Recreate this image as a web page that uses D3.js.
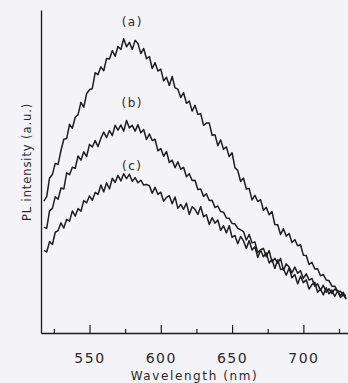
<!DOCTYPE html>
<html>
<head>
<meta charset="utf-8">
<script src="https://cdn.jsdelivr.net/npm/d3@7"></script>
<style>
  html, body { margin: 0; padding: 0; background: #f4f3f8; }
  svg { display: block; }
  text { font-family: "DejaVu Sans", sans-serif; fill: #2a2a2a; }
</style>
</head>
<body>
<svg width="348" height="383"></svg>
<script>
// wavelength grid (nm) the spectra were read on
const wavelengths = [518, 520, 522, 524, 526, 528, 530, 532, 534, 536, 538, 540, 542, 544, 546, 548,
  550, 552, 554, 556, 558, 560, 562, 564, 566, 568, 570, 572, 574, 576, 578, 580, 582, 584, 586, 588,
  590, 592, 594, 596, 598, 600, 602, 604, 606, 608, 610, 612, 614, 616, 618, 620, 622, 624, 626, 628,
  630, 632, 634, 636, 638, 640, 642, 644, 646, 648, 650, 652, 654, 656, 658, 660, 662, 664, 666, 668,
  670, 672, 674, 676, 678, 680, 682, 684, 686, 688, 690, 692, 694, 696, 698, 700, 702, 704, 706, 708,
  710, 712, 714, 716, 718, 720, 722, 724, 726, 728, 730];

// PL intensity (a.u.)
const seriesA = [40.8, 42.2, 48.0, 49.1, 52.5, 52.2, 56.5, 60.0, 60.2, 64.6, 63.4, 66.8, 67.6, 71.4, 69.9, 74.1,
  75.3, 75.7, 80.6, 80.0, 82.4, 81.2, 85.0, 84.8, 87.4, 85.7, 88.7, 87.8, 91.1, 88.6, 90.0, 87.8, 90.6, 89.6, 86.5, 88.1,
  84.9, 85.6, 81.9, 83.7, 81.1, 81.7, 78.1, 79.2, 76.6, 79.4, 75.9, 75.5, 72.9, 74.4, 71.1, 71.8, 68.7, 70.5, 67.7, 67.9,
  64.3, 65.0, 65.0, 61.2, 61.4, 58.0, 59.8, 56.9, 57.6, 54.6, 55.8, 51.2, 50.3, 46.9, 48.0, 44.6, 44.7, 41.2, 42.6, 40.7,
  41.3, 38.0, 38.9, 36.6, 37.6, 33.6, 33.5, 30.5, 32.3, 30.0, 30.8, 28.0, 28.9, 27.0, 27.3, 24.1, 24.0, 21.2, 21.9, 19.8,
  19.9, 17.7, 18.1, 16.4, 16.2, 14.5, 14.5, 13.0, 12.9, 11.8, 11.7];

const seriesB = [32.7, 32.4, 37.8, 38.6, 42.2, 41.4, 44.9, 44.6, 49.6, 49.0, 51.3, 51.0, 54.8, 53.5, 56.1, 54.6,
  58.4, 57.6, 59.6, 57.7, 60.3, 62.2, 60.5, 62.7, 61.1, 64.3, 62.8, 64.4, 62.5, 65.8, 63.5, 64.3, 62.5, 64.5, 62.0, 63.0,
  59.9, 61.6, 59.6, 60.0, 56.4, 57.1, 54.7, 56.2, 52.8, 53.5, 51.2, 53.0, 50.7, 51.3, 48.4, 49.3, 47.2, 47.3, 44.4, 44.6,
  42.3, 43.1, 41.0, 41.1, 38.9, 39.3, 37.6, 37.4, 35.6, 35.5, 33.9, 33.8, 32.4, 31.9, 31.4, 28.8, 30.5, 27.9, 28.2, 24.9,
  25.8, 26.2, 23.6, 25.5, 22.0, 23.1, 21.6, 23.1, 19.4, 21.4, 20.4, 18.6, 20.4, 18.5, 19.3, 16.9, 18.3, 16.4, 16.9, 14.5,
  15.2, 13.2, 14.8, 12.6, 13.7, 12.2, 13.6, 13.0, 11.6, 12.6, 10.5];

const seriesC = [25.6, 25.1, 28.3, 27.4, 31.2, 31.7, 34.1, 32.5, 35.2, 34.6, 37.8, 36.2, 38.5, 37.7, 41.0, 40.3,
  42.4, 41.1, 43.5, 42.9, 45.8, 43.7, 46.5, 44.6, 47.9, 46.6, 48.8, 47.1, 49.3, 47.8, 49.1, 47.0, 48.1, 46.5, 47.3, 45.8,
  46.0, 45.6, 43.3, 45.1, 42.9, 43.6, 40.8, 42.0, 42.5, 40.0, 42.1, 38.6, 39.8, 38.3, 40.2, 36.7, 39.1, 38.3, 36.7, 39.1,
  36.0, 36.6, 33.6, 35.7, 34.0, 35.0, 31.8, 33.2, 31.0, 33.2, 29.6, 30.2, 27.6, 29.9, 28.5, 26.2, 28.6, 25.7, 26.7, 23.4,
  25.7, 23.6, 24.8, 21.7, 22.8, 20.0, 22.7, 19.7, 19.9, 17.9, 20.1, 17.1, 18.1, 15.2, 17.6, 15.6, 16.5, 13.6, 15.0, 15.7,
  12.6, 13.6, 11.8, 14.0, 12.1, 13.3, 11.3, 13.0, 11.0, 11.8, 10.6];

const seriesNames = ['(a)', '(b)', '(c)'];
const majorTicks = [550, 600, 650, 700];
const minorTicks = [525, 575, 625, 675, 725];

const svg = d3.select('svg');
const margin = {top: 10, right: 0, bottom: 50, left: 41};
const width = 348 - margin.left - margin.right,
    height = 383 - margin.top - margin.bottom;

const x = d3.scaleLinear().domain([516, 731.3]).range([0, width]);
const y = d3.scaleLinear().domain([0, 100]).range([height, 0]);

const g = svg.append('g')
    .attr('transform', 'translate(' + margin.left + ',' + margin.top + ')');

const line = d3.line()
    .x((d, i) => x(wavelengths[i]))
    .y(d => y(d));

[seriesA, seriesB, seriesC].forEach(s => {
  g.append('path')
      .datum(s)
      .attr('fill', 'none')
      .attr('stroke', '#1e1e1e')
      .attr('stroke-width', 1.5)
      .attr('stroke-linejoin', 'round')
      .attr('d', line);
});

// series labels, sitting just above each peak
const peaks = [seriesA, seriesB, seriesC].map(s => d3.max(s));
const labelOffset = [13, 13, 4];
g.selectAll('.lbl')
    .data(seriesNames)
  .enter().append('text')
    .attr('class', 'lbl')
    .attr('x', x(580))
    .attr('y', (d, i) => y(peaks[i]) - labelOffset[i])
    .attr('text-anchor', 'middle')
    .style('font-size', '12px')
    .style('letter-spacing', '1.5px')
    .text(d => d);

// axes: major and minor ticks point inward
const xAxis = g.append('g')
    .attr('transform', 'translate(0,' + height + ')');

xAxis.call(d3.axisBottom(x).tickValues(majorTicks).tickSizeInner(-8).tickSizeOuter(0).tickPadding(20))
    .call(a => a.select('.domain').attr('stroke', '#1a1a1a').attr('stroke-width', 1.5))
    .call(a => a.selectAll('.tick line').attr('stroke', '#1a1a1a').attr('stroke-width', 1.2))
    .call(a => a.selectAll('.tick text')
        .attr('fill', '#2a2a2a')
        .style('font-family', '"DejaVu Sans", sans-serif')
        .style('font-size', '14px')
        .style('letter-spacing', '1.5px'));

g.append('g')
    .attr('transform', 'translate(0,' + height + ')')
    .call(d3.axisBottom(x).tickValues(minorTicks).tickSizeInner(-4).tickSizeOuter(0).tickFormat(''))
    .call(a => a.select('.domain').remove())
    .call(a => a.selectAll('.tick line').attr('stroke', '#1a1a1a').attr('stroke-width', 1.2));

g.append('g')
    .call(d3.axisLeft(y).tickValues([]).tickSizeOuter(0))
    .call(a => a.select('.domain').attr('stroke', '#1a1a1a').attr('stroke-width', 1.3));

svg.append('text')
    .attr('x', margin.left + width / 2)
    .attr('y', 380)
    .attr('text-anchor', 'middle')
    .style('font-size', '12px')
    .style('letter-spacing', '1.6px')
    .text('Wavelength (nm)');

svg.append('text')
    .attr('transform', 'translate(31,162) rotate(-90)')
    .attr('text-anchor', 'middle')
    .style('font-size', '11.5px')
    .style('letter-spacing', '0.9px')
    .text('PL intensity (a.u.)');
</script>
</body>
</html>
